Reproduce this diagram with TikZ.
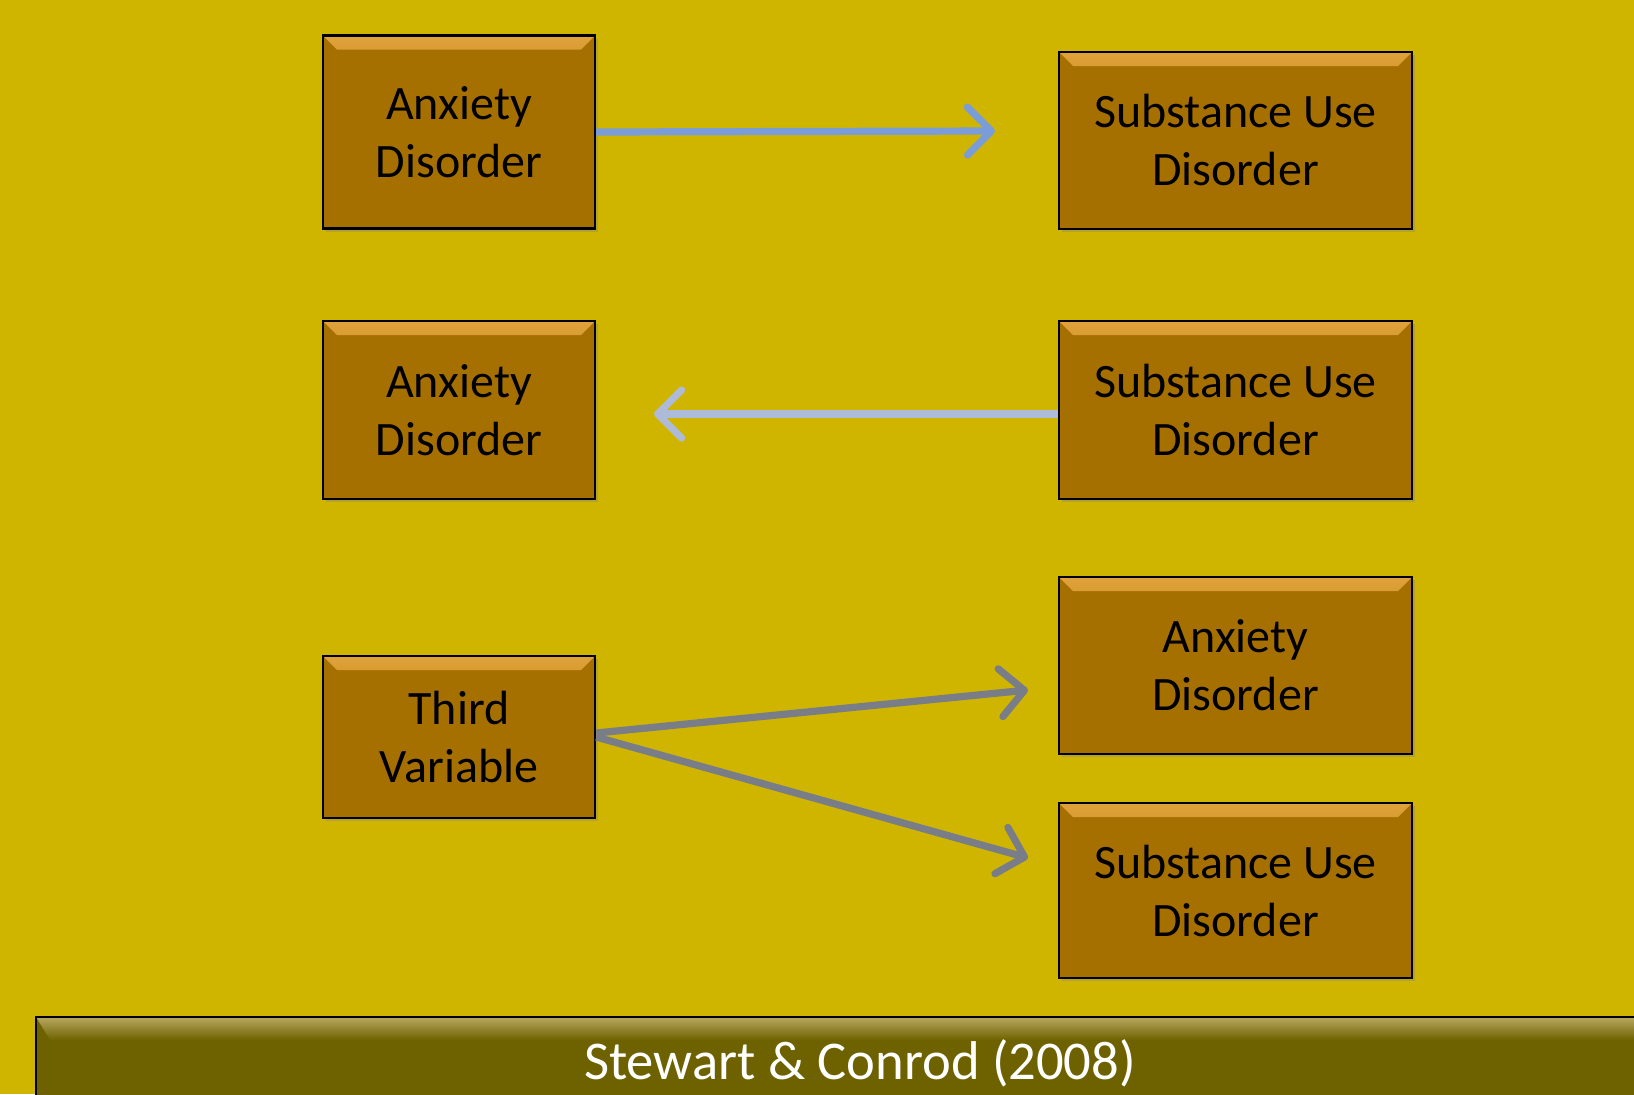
\documentclass[tikz,border=0pt]{standalone}
\usepackage{fontspec}
\setmainfont{Carlito}
\usetikzlibrary{arrows.meta,shadows}
\definecolor{slidebg}{HTML}{CFB500}
\definecolor{boxfill}{HTML}{A67000}
\definecolor{boxlight}{HTML}{E0A23A}
\definecolor{barfill}{HTML}{6E6200}
\definecolor{barlight}{HTML}{B8A860}
\definecolor{arrowblue}{HTML}{7A9CD8}
\definecolor{arrowpale}{HTML}{AEBBD8}
\definecolor{arrowgray}{HTML}{787D87}
\tikzset{
  disorder/.style={draw=black, line width=1.2pt, fill=boxfill, align=center,
    inner sep=0pt, font=\fontsize{24}{29}\selectfont,
    drop shadow={opacity=0.35, shadow xshift=1.5pt, shadow yshift=-1.5pt},
    path picture={
      \shade[top color=boxlight, bottom color=boxfill, middle color=boxfill!70!boxlight]
        (path picture bounding box.north west) -- (path picture bounding box.north east)
        -- ([xshift=-7pt,yshift=-7pt]path picture bounding box.north east)
        -- ([xshift=7pt,yshift=-7pt]path picture bounding box.north west) -- cycle;
    }},
  narrowbox/.style={disorder, minimum width=136pt},
  widebox/.style={disorder, minimum width=176.5pt},
  link/.style={line width=3.6pt, line cap=butt,
    -{Straight Barb[length=12pt,width=24pt,round]}}
}
\begin{document}
\begin{tikzpicture}[x=0.5pt, y=-0.5pt]
    % Nền
    \useasboundingbox (0,0) rectangle (1634,1094);
    \fill[slidebg] (0,0) rectangle (1634,1094);

    % Hàng 1
    \node[narrowbox, minimum height=96.5pt] (anxone) at (459,132) {Anxiety\\Disorder};
    \node[widebox, minimum height=88.5pt] (sudone) at (1235.5,140.5) {Substance Use\\Disorder};
    \coordinate (tipone) at (995,131);

    % Hàng 2
    \node[narrowbox, minimum height=89pt] (anxtwo) at (459,410) {Anxiety\\Disorder};
    \node[widebox, minimum height=89pt] (sudtwo) at (1235.5,410) {Substance Use\\Disorder};
    \coordinate (tiptwo) at (654,414);

    % Hàng 3
    \node[narrowbox, minimum height=81pt] (third) at (459,737) {Third\\Variable};
    \node[widebox, minimum height=88.5pt] (anxthree) at (1235.5,665.5) {Anxiety\\Disorder};
    \node[widebox, minimum height=87.5pt] (sudthree) at (1235.5,890.5) {Substance Use\\Disorder};
    \coordinate (tipthree) at (1028,690);
    \coordinate (tipfour) at (1028,858);

    % Mũi tên
    \draw[link, arrowblue] (anxone.east) -- (tipone);
    \draw[link, arrowpale] ([yshift=-2pt]sudtwo.west) -- (tiptwo);
    \draw[link, arrowgray] ([yshift=2pt]third.east) -- (tipthree);
    \draw[link, arrowgray] (third.east) -- (tipfour);

    % Thanh trích dẫn
    \fill[barfill] (36,1017) rectangle (1640,1100);
    \shade[top color=barlight, bottom color=barfill] (36,1017) -- (1640,1017) -- (1640,1040) -- (50,1040) -- cycle;
    \draw[black, line width=1.2pt] (36,1100) -- (36,1017) -- (1640,1017);
    \node[text=white, font=\fontsize{27.3}{33}\selectfont] (cite) at (860,1063) {Stewart \& Conrod (2008)};
\end{tikzpicture}
\end{document}
